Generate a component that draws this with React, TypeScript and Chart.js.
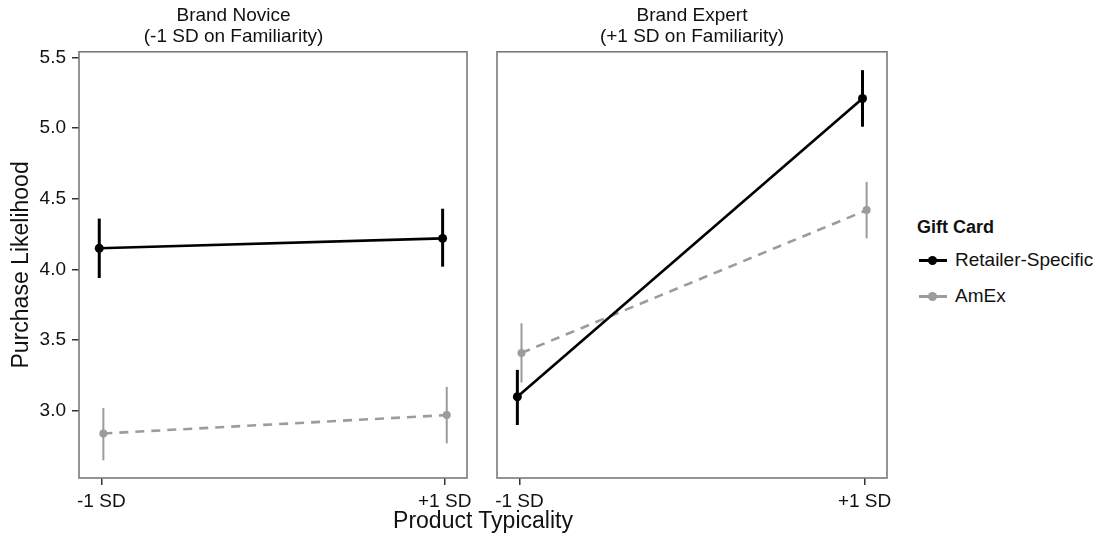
import React, { useEffect, useRef } from 'react';
import { Chart, registerables } from 'chart.js';

Chart.register(...registerables);

// ---------- data ----------
const X_CATEGORIES = ['-1 SD', '+1 SD'];
const X_VALUES = [-1, 1];
const Y_TICKS = [3.0, 3.5, 4.0, 4.5, 5.0, 5.5];
const SERIES_NAMES = ['Retailer-Specific', 'AmEx'];
const LEGEND_TITLE = 'Gift Card';
const Y_TITLE = 'Purchase Likelihood';
const X_TITLE = 'Product Typicality';
const PANEL_TITLES = [
  ['Brand Novice', '(-1 SD on Familiarity)'],
  ['Brand Expert', '(+1 SD on Familiarity)'],
];

const NOVICE_RETAILER = [4.15, 4.22];
const NOVICE_RETAILER_LO = [3.94, 4.02];
const NOVICE_RETAILER_HI = [4.36, 4.43];
const NOVICE_AMEX = [2.84, 2.97];
const NOVICE_AMEX_LO = [2.65, 2.77];
const NOVICE_AMEX_HI = [3.02, 3.17];

const EXPERT_RETAILER = [3.1, 5.21];
const EXPERT_RETAILER_LO = [2.9, 5.01];
const EXPERT_RETAILER_HI = [3.29, 5.41];
const EXPERT_AMEX = [3.41, 4.42];
const EXPERT_AMEX_LO = [3.2, 4.22];
const EXPERT_AMEX_HI = [3.62, 4.62];

// ---------- style ----------
const FONT = '"Liberation Sans", Arial, Helvetica, sans-serif';
const BLACK = '#000000';
const GREY = '#9c9c9c';
const BOX = '#7a7a7a';
const DODGE = 0.012;
const Y_MIN = 2.525;
const Y_MAX = 5.54;
const X_MIN = -1.13;
const X_MAX = 1.13;

const errorBarPlugin = {
  id: 'errorBars',
  beforeDatasetsDraw(chart: any) {
    const ctx = chart.ctx;
    const xs = chart.scales.x;
    const ys = chart.scales.y;
    ctx.save();
    chart.data.datasets.forEach((ds: any) => {
      ds.data.forEach((p: any, i: number) => {
        const x = xs.getPixelForValue(p.x);
        ctx.beginPath();
        ctx.strokeStyle = ds.errColor;
        ctx.lineWidth = ds.errWidth;
        ctx.setLineDash([]);
        ctx.moveTo(x, ys.getPixelForValue(ds.errLo[i]));
        ctx.lineTo(x, ys.getPixelForValue(ds.errHi[i]));
        ctx.stroke();
      });
    });
    ctx.restore();
  },
};

const boxPlugin = {
  id: 'panelBox',
  beforeDatasetsDraw(chart: any) {
    const { ctx, chartArea } = chart;
    ctx.save();
    ctx.strokeStyle = BOX;
    ctx.lineWidth = 1.6;
    ctx.strokeRect(chartArea.left, chartArea.top, chartArea.right - chartArea.left, chartArea.bottom - chartArea.top);
    ctx.restore();
  },
};

function makeDatasets(ret: number[], retLo: number[], retHi: number[], amex: number[], amexLo: number[], amexHi: number[]) {
  return [
    {
      label: SERIES_NAMES[0],
      data: X_VALUES.map((x, i) => ({ x: x - DODGE, y: ret[i] })),
      borderColor: BLACK,
      backgroundColor: BLACK,
      borderWidth: 2.6,
      pointRadius: 4.5,
      pointBorderWidth: 0,
      pointBackgroundColor: BLACK,
      errLo: retLo,
      errHi: retHi,
      errColor: BLACK,
      errWidth: 3,
    },
    {
      label: SERIES_NAMES[1],
      data: X_VALUES.map((x, i) => ({ x: x + DODGE, y: amex[i] })),
      borderColor: GREY,
      backgroundColor: GREY,
      borderWidth: 2.6,
      borderDash: [9, 7],
      pointRadius: 4,
      pointBorderWidth: 0,
      pointBackgroundColor: GREY,
      errLo: amexLo,
      errHi: amexHi,
      errColor: GREY,
      errWidth: 2,
    },
  ];
}

function Panel(props: { datasets: any[]; title: string[]; showY: boolean; width: number; padLeft: number; padRight: number; left: number }) {
  const ref = useRef<HTMLCanvasElement | null>(null);
  useEffect(() => {
    if (!ref.current) return;
    const chart = new Chart(ref.current, {
      type: 'line',
      data: { datasets: props.datasets as any },
      plugins: [boxPlugin, errorBarPlugin],
      options: {
        responsive: false,
        animation: false,
        layout: { autoPadding: false, padding: { left: props.padLeft, right: props.padRight, top: 0, bottom: 30 } },
        plugins: {
          legend: { display: false },
          tooltip: { enabled: false },
          title: {
            display: true,
            text: props.title,
            color: '#111',
            font: { family: FONT, size: 19, weight: 'normal', lineHeight: 1.1 },
            padding: { top: 5, bottom: 5 },
          },
        },
        scales: {
          x: {
            type: 'linear',
            min: X_MIN,
            max: X_MAX,
            afterBuildTicks: (s: any) => {
              s.ticks = X_VALUES.map((v) => ({ value: v }));
            },
            afterFit: (s: any) => {
              s.height = 32;
            },
            ticks: {
              autoSkip: false,
              maxRotation: 0,
              padding: 5,
              color: '#111',
              font: { family: FONT, size: 19 },
              callback: (v: any) => X_CATEGORIES[X_VALUES.indexOf(Number(v))],
            },
            grid: { drawOnChartArea: false, drawTicks: true, tickLength: 7, color: '#333', lineWidth: 1.5 },
            border: { display: false },
          },
          y: {
            type: 'linear',
            min: Y_MIN,
            max: Y_MAX,
            display: props.showY,
            afterBuildTicks: (s: any) => {
              s.ticks = Y_TICKS.map((v) => ({ value: v }));
            },
            afterFit: (s: any) => {
              if (props.showY) s.width = 79;
            },
            ticks: {
              padding: 6,
              color: '#111',
              font: { family: FONT, size: 19 },
              callback: (v: any) => Number(v).toFixed(1),
            },
            grid: { drawOnChartArea: false, drawTicks: true, tickLength: 7, color: '#333', lineWidth: 1.5 },
            border: { display: false },
            title: {
              display: true,
              text: Y_TITLE,
              color: '#111',
              font: { family: FONT, size: 23 },
              padding: { top: 8, bottom: 0 },
            },
          },
        },
      } as any,
    });
    return () => chart.destroy();
  }, []);
  return (
    <canvas
      ref={ref}
      width={props.width}
      height={540}
      style={{ position: 'absolute', left: props.left, top: 0, width: props.width, height: 540 }}
    />
  );
}

function LegendItem(props: { color: string; label: string; top: number }) {
  return (
    <div style={{ position: 'absolute', left: 918, top: props.top, height: 24, display: 'flex', alignItems: 'center' }}>
      <div style={{ position: 'relative', width: 30, height: 24 }}>
        <div style={{ position: 'absolute', left: 1, width: 28, top: 11, height: 2.5, background: props.color }} />
        <div style={{ position: 'absolute', left: 10, top: 7.5, width: 9, height: 9, borderRadius: '50%', background: props.color }} />
      </div>
      <span style={{ marginLeft: 7, fontFamily: FONT, fontSize: 19, color: '#111' }}>{props.label}</span>
    </div>
  );
}

export default function App() {
  const novice = makeDatasets(NOVICE_RETAILER, NOVICE_RETAILER_LO, NOVICE_RETAILER_HI, NOVICE_AMEX, NOVICE_AMEX_LO, NOVICE_AMEX_HI);
  const expert = makeDatasets(EXPERT_RETAILER, EXPERT_RETAILER_LO, EXPERT_RETAILER_HI, EXPERT_AMEX, EXPERT_AMEX_LO, EXPERT_AMEX_HI);
  return (
    <div style={{ position: 'absolute', left: 0, top: 0, width: 1101, height: 540, background: '#fff', overflow: 'hidden' }}>
      <Panel datasets={novice} title={PANEL_TITLES[0]} showY={true} width={482} padLeft={0} padRight={15} left={0} />
      <Panel datasets={expert} title={PANEL_TITLES[1]} showY={false} width={418} padLeft={15} padRight={13} left={482} />
      <div
        style={{
          position: 'absolute',
          left: 0,
          width: 966,
          top: 507,
          textAlign: 'center',
          fontFamily: FONT,
          fontSize: 23,
          color: '#111',
          lineHeight: '26px',
        }}
      >
        {X_TITLE}
      </div>
      <div style={{ position: 'absolute', left: 917, top: 216, fontFamily: FONT, fontSize: 18, fontWeight: 'bold', color: '#111', lineHeight: '22px' }}>
        {LEGEND_TITLE}
      </div>
      <LegendItem color={BLACK} label={SERIES_NAMES[0]} top={248} />
      <LegendItem color={GREY} label={SERIES_NAMES[1]} top={284} />
    </div>
  );
}
